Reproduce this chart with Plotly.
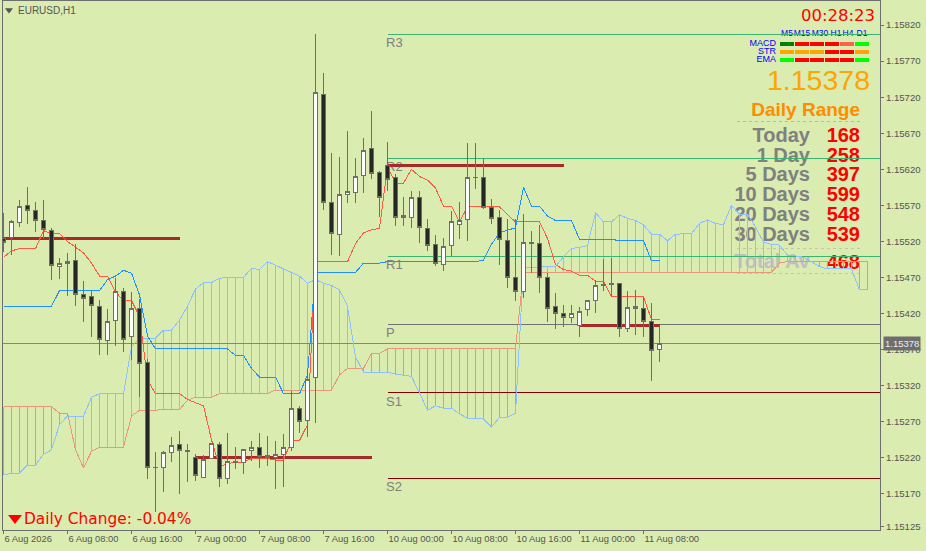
import plotly.graph_objects as go

# EURUSD H1 candles, one per hour bar
open_ = [1.15524,1.15525,1.15546,1.15570,1.15563,1.15549,1.15535,1.15485,1.15489,1.15494,1.15447,1.15443,1.15430,1.15382,1.15410,1.15451,1.15388,1.15427,1.15352,1.15206,1.15207,1.15228,1.15239,1.15230,1.15221,1.15193,1.15219,1.15239,1.15192,1.15214,1.15214,1.15230,1.15234,1.15223,1.15221,1.15224,1.15234,1.15289,1.15272,1.15332,1.15724,1.15574,1.15530,1.15585,1.15588,1.15612,1.15649,1.15616,1.15625,1.15609,1.15556,1.15553,1.15581,1.15538,1.15516,1.15488,1.15515,1.15544,1.15551,1.15608,1.15609,1.15567,1.15553,1.15522,1.15470,1.15450,1.15518,1.15517,1.15470,1.15430,1.15420,1.15415,1.15404,1.15425,1.15438,1.15461,1.15462,1.15462,1.15400,1.15430,1.15427,1.15409,1.15370]
high = [1.15559,1.15550,1.15577,1.15595,1.15574,1.15578,1.15538,1.15497,1.15504,1.15517,1.15465,1.15452,1.15439,1.15427,1.15469,1.15455,1.15450,1.15440,1.15357,1.15228,1.15229,1.15249,1.15257,1.15239,1.15226,1.15224,1.15241,1.15242,1.15255,1.15235,1.15232,1.15243,1.15254,1.15250,1.15243,1.15253,1.15313,1.15292,1.15342,1.15808,1.15754,1.15642,1.15637,1.15673,1.15636,1.15663,1.15701,1.15617,1.15658,1.15613,1.15582,1.15590,1.15590,1.15551,1.15529,1.15525,1.15562,1.15575,1.15656,1.15656,1.15635,1.15579,1.15564,1.15551,1.15551,1.15558,1.15535,1.15543,1.15476,1.15449,1.15432,1.15432,1.15429,1.15439,1.15466,1.15496,1.15497,1.15462,1.15451,1.15453,1.15443,1.15434,1.15403]
low = [1.15505,1.15501,1.15540,1.15544,1.15533,1.15524,1.15467,1.15468,1.15444,1.15430,1.15408,1.15388,1.15363,1.15363,1.15375,1.15367,1.15356,1.15305,1.15191,1.15145,1.15173,1.15214,1.15170,1.15187,1.15188,1.15193,1.15218,1.15180,1.15184,1.15205,1.15198,1.15215,1.15206,1.15209,1.15177,1.15180,1.15230,1.15255,1.15249,1.15268,1.15564,1.15501,1.15500,1.15573,1.15573,1.15587,1.15607,1.15554,1.15590,1.15542,1.15541,1.15538,1.15518,1.15507,1.15486,1.15479,1.15500,1.15523,1.15520,1.15593,1.15565,1.15544,1.15487,1.15456,1.15437,1.15442,1.15476,1.15449,1.15408,1.15399,1.15402,1.15407,1.15388,1.15417,1.15421,1.15452,1.15443,1.15387,1.15395,1.15391,1.15387,1.15327,1.15353]
close = [1.15519,1.15547,1.15568,1.15563,1.15549,1.15537,1.15486,1.15490,1.15492,1.15446,1.15441,1.15431,1.15384,1.15409,1.15450,1.15384,1.15427,1.15351,1.15206,1.15207,1.15228,1.15237,1.15230,1.15229,1.15195,1.15218,1.15240,1.15192,1.15215,1.15215,1.15232,1.15235,1.15222,1.15221,1.15224,1.15235,1.15288,1.15271,1.15329,1.15727,1.15574,1.15531,1.15585,1.15589,1.15610,1.15646,1.15614,1.15581,1.15606,1.15553,1.15553,1.15581,1.15540,1.15515,1.15490,1.15513,1.15547,1.15549,1.15608,1.15609,1.15567,1.15552,1.15523,1.15470,1.15450,1.15519,1.15517,1.15470,1.15427,1.15420,1.15415,1.15420,1.15423,1.15438,1.15459,1.15459,1.15460,1.15400,1.15429,1.15427,1.15409,1.15369,1.15378]

# Ichimoku
tenkan = [1.15498,1.15507,1.15510,1.15510,1.15510,1.15535,1.15531,1.15531,1.15520,1.15512,1.15504,1.15490,1.15472,1.15472,1.15450,1.15438,1.15438,1.15416,1.15328,1.15309,1.15309,1.15309,1.15309,1.15301,1.15296,1.15292,1.15245,1.15208,1.15212,1.15214,1.15214,1.15219,1.15219,1.15219,1.15217,1.15217,1.15244,1.15244,1.15266,1.15492,1.15492,1.15492,1.15492,1.15492,1.15517,1.15532,1.15536,1.15538,1.15624,1.15601,1.15601,1.15620,1.15610,1.15605,1.15594,1.15569,1.15569,1.15547,1.15568,1.15568,1.15568,1.15568,1.15568,1.15557,1.15547,1.15547,1.15547,1.15547,1.15524,1.15488,1.15481,1.15479,1.15473,1.15473,1.15465,1.15465,1.15443,1.15443,1.15443,1.15443,1.15443,1.15412,1.15412]
kijun = [1.15430,1.15430,1.15430,1.15430,1.15430,1.15430,1.15430,1.15452,1.15452,1.15452,1.15452,1.15452,1.15452,1.15467,1.15472,1.15480,1.15476,1.15446,1.15389,1.15371,1.15371,1.15371,1.15371,1.15371,1.15371,1.15371,1.15371,1.15371,1.15371,1.15362,1.15362,1.15344,1.15332,1.15332,1.15332,1.15309,1.15309,1.15309,1.15335,1.15477,1.15477,1.15477,1.15477,1.15477,1.15477,1.15490,1.15490,1.15490,1.15492,1.15492,1.15492,1.15492,1.15492,1.15492,1.15492,1.15492,1.15492,1.15492,1.15492,1.15492,1.15494,1.15516,1.15532,1.15536,1.15539,1.15595,1.15569,1.15569,1.15555,1.15549,1.15549,1.15549,1.15523,1.15523,1.15523,1.15523,1.15523,1.15521,1.15521,1.15521,1.15521,1.15493,1.15493]
senkou_a = [1.15291,1.15291,1.15291,1.15291,1.15291,1.15291,1.15291,1.15282,1.15282,1.15231,1.15206,1.15229,1.15235,1.15235,1.15235,1.15235,1.15278,1.15286,1.15286,1.15286,1.15286,1.15286,1.15287,1.15300,1.15304,1.15304,1.15304,1.15309,1.15309,1.15309,1.15309,1.15309,1.15309,1.15309,1.15314,1.15314,1.15314,1.15314,1.15314,1.15314,1.15314,1.15314,1.15335,1.15344,1.15344,1.15344,1.15365,1.15365,1.15371,1.15371,1.15371,1.15371,1.15371,1.15371,1.15371,1.15371,1.15371,1.15371,1.15371,1.15371,1.15371,1.15371,1.15371,1.15371,1.15371,1.15477,1.15477,1.15477,1.15477,1.15477,1.15477,1.15477,1.15477,1.15477,1.15477,1.15477,1.15477,1.15477,1.15477,1.15477,1.15477,1.15477,1.15477,1.15477,1.15477,1.15477,1.15477,1.15477,1.15477,1.15477,1.15477,1.15477,1.15477,1.15477,1.15477,1.15477,1.15477,1.15490,1.15492,1.15492,1.15492,1.15492,1.15492,1.15492,1.15492,1.15492,1.15492,1.15492,1.15492]
senkou_b = [1.15196,1.15199,1.15199,1.15210,1.15210,1.15225,1.15231,1.15266,1.15278,1.15278,1.15278,1.15304,1.15309,1.15309,1.15309,1.15309,1.15374,1.15386,1.15386,1.15386,1.15397,1.15397,1.15411,1.15430,1.15454,1.15463,1.15463,1.15469,1.15470,1.15470,1.15470,1.15483,1.15481,1.15492,1.15487,1.15483,1.15477,1.15472,1.15462,1.15467,1.15462,1.15459,1.15453,1.15430,1.15360,1.15339,1.15339,1.15339,1.15339,1.15336,1.15335,1.15333,1.15310,1.15286,1.15292,1.15289,1.15289,1.15281,1.15275,1.15275,1.15274,1.15263,1.15276,1.15276,1.15282,1.15484,1.15484,1.15484,1.15484,1.15485,1.15499,1.15510,1.15512,1.15514,1.15560,1.15547,1.15547,1.15557,1.15552,1.15549,1.15543,1.15530,1.15530,1.15521,1.15530,1.15530,1.15531,1.15545,1.15550,1.15545,1.15543,1.15570,1.15558,1.15558,1.15540,1.15519,1.15516,1.15515,1.15501,1.15500,1.15498,1.15492,1.15485,1.15482,1.15482,1.15482,1.15482,1.15453,1.15453]

# pivots and daily open levels
pivot_names = ["R3", "R2", "R1", "P", "S1", "S2"]
pivot_prices = [1.15807, 1.15635, 1.15499, 1.15405, 1.15310, 1.15192]
day_open_prices = [1.15524, 1.15221, 1.15625, 1.15404]
day_open_start = [0, 24, 48, 72]
day_open_end = [22, 46, 70, 82]
last_price = 1.15378

# axis labels
x_tick_pos = [0, 8, 16, 24, 32, 40, 48, 56, 64, 72, 80]
x_tick_text = ["6 Aug 2026", "6 Aug 08:00", "6 Aug 16:00", "7 Aug 00:00", "7 Aug 08:00", "7 Aug 16:00",
               "10 Aug 00:00", "10 Aug 08:00", "10 Aug 16:00", "11 Aug 00:00", "11 Aug 08:00"]
y_ticks = [1.15820,1.15770,1.15720,1.15670,1.15620,1.15570,1.15520,1.15470,1.15420,1.15370,1.15320,1.15270,1.15220,1.15170,1.15125]

# signal table and daily range panel
tf_names = ["M5", "M15", "M30", "H1", "H4", "D1"]
signal_names = ["MACD", "STR", "EMA"]
signal_colors = [["#008000", "#FF0000", "#FF0000", "#FF0000", "#FF6347", "#00FF00"],
                 ["#FFA500", "#FFA500", "#FFA500", "#FF0000", "#FF0000", "#FFA500"],
                 ["#00FF00", "#FF0000", "#FF0000", "#FF0000", "#FF0000", "#00FF00"]]
range_names = ["Today", "1 Day", "5 Days", "10 Days", "20 Days", "30 Days"]
range_values = ["168", "258", "397", "599", "548", "539"]
total_avg = "468"

BG = "#DAECAF"
FRAME = "#6E6E6E"
SANS = "Liberation Sans"
X_RANGE = [-0.0625, 109.5625]
Y_RANGE = [1.15120, 1.158533]
xs = list(range(len(senkou_a)))

fig = go.Figure()


def panel_text(text, x, y, size, color, pos="middle left", family=SANS, weight=400):
    # panel axes are in screen pixels, they sit under the market layers
    fig.add_trace(go.Scatter(x=[x], y=[y], mode="text", text=[text], textposition=pos,
                             textfont=dict(family=family, size=size, color=color, weight=weight),
                             hoverinfo="skip", showlegend=False))


def panel_line(x0, x1, y, color, width, dash="solid"):
    fig.add_trace(go.Scatter(x=[x0, x1], y=[y, y], mode="lines", line=dict(color=color, width=width, dash=dash),
                             hoverinfo="skip", showlegend=False))


def market_line(x, y, color, width):
    fig.add_trace(go.Scatter(x=x, y=y, mode="lines", line=dict(color=color, width=width), xaxis="x2", yaxis="y2",
                             connectgaps=False, hoverinfo="skip", showlegend=False))


# header
fig.add_trace(go.Scatter(x=[9], y=[10], mode="markers", marker=dict(symbol="triangle-down", size=7, color="#555555"),
                         hoverinfo="skip", showlegend=False))
panel_text("EURUSD,H1", 18, 11, 10, "#555555", pos="middle right")

# clock and signal table
panel_text("00:28:23", 875, 17, 16.5, "#FF0000", family="DejaVu Sans")
col_x = [787, 802, 817, 832, 847, 862]
label_x = [787, 802, 820, 836, 848, 862]
row_y = [43.7, 51.7, 59.7]
label_y = [44, 52, 60]
for name, lx in zip(tf_names, label_x):
    panel_text(name, lx, 34, 8.5, "#0000FF", pos="middle center")
for r, name in enumerate(signal_names):
    panel_text(name, 776, label_y[r], 9, "#0000FF")
    for c, color in enumerate(signal_colors[r]):
        panel_line(col_x[c] - 6.7, col_x[c] + 6.7, row_y[r], color, 4)

panel_text(f"{last_price:.5f}", 870, 83, 28.5, "#FFA500")
panel_text("Daily Range", 860, 111, 19, "#FF8C00", weight=700)
panel_line(737, 860, 121.5, "#B9B9A0", 1, "dot")

row_center = [136.5, 156.5, 176, 195.5, 216, 236]
for name, val, y in zip(range_names, range_values, row_center):
    panel_text(name, 810, y, 20, "#808080", weight=700)
    panel_text(val, 860, y, 20, "#FF0000", weight=700)
panel_line(737, 860, 248.5, "#C4C4B4", 1, "dot")
panel_text("Total Av", 810, 262.5, 20, "#C0C0C0", weight=700)
panel_text(total_avg, 860, 264, 20, "#FF0000", weight=700)
panel_line(737, 860, 273.5, "#C4C4B4", 1, "dot")

# daily change
fig.add_trace(go.Scatter(x=[15], y=[518], mode="markers", marker=dict(symbol="triangle-down", size=12, color="#FF0000"),
                         hoverinfo="skip", showlegend=False))
panel_text("Daily Change: -0.04%", 24, 520.5, 15.4, "#FF0000", pos="middle right", family="DejaVu Sans")

# pivot names
pivot_label_y = [44, 168, 266, 334, 403, 488]
for name, y in zip(pivot_names, pivot_label_y):
    panel_text(name, 386, y, 13, "#808080", pos="middle right")

# cloud hatching, one stroke per bar
hatch_blue_x, hatch_blue_y, hatch_red_x, hatch_red_y = [], [], [], []
for i, (a, b) in enumerate(zip(senkou_a, senkou_b)):
    if b > a:
        hatch_blue_x += [i, i, None]
        hatch_blue_y += [a, b, None]
    else:
        hatch_red_x += [i, i, None]
        hatch_red_y += [a, b, None]
market_line(hatch_blue_x, hatch_blue_y, "#8CC0FF", 1)
market_line(hatch_red_x, hatch_red_y, "#E9967A", 1)

# levels
for name, price in zip(pivot_names, pivot_prices):
    color = "#707070" if name == "P" else ("#3CB371" if name.startswith("R") else "#800000")
    market_line([48, X_RANGE[1]], [price, price], color, 1)
market_line(X_RANGE, [last_price, last_price], "#778899", 1)
for p, s, e in zip(day_open_prices, day_open_start, day_open_end):
    market_line([s, e], [p, p], "#A52A2A", 3)

market_line(xs, senkou_a, "#E9967A", 1)
market_line(xs, senkou_b, "#8CC0FF", 1)
market_line(xs[:len(kijun)], kijun, "#1E90FF", 1)
market_line(xs[:len(tenkan)], tenkan, "#FF5A46", 1)

fig.add_trace(go.Candlestick(x=xs[:len(close)], open=open_, high=high, low=low, close=close,
                             xaxis="x3", yaxis="y3", whiskerwidth=0,
                             increasing=dict(line=dict(color="#70705F", width=1), fillcolor="#FFFFFF"),
                             decreasing=dict(line=dict(color="#70705F", width=1), fillcolor="#262626"),
                             hoverinfo="skip", showlegend=False))

# price tag on the scale
fig.add_annotation(x=1, y=last_price, xref="paper", yref="y2", text=f"{last_price:.5f}", showarrow=False,
                   xanchor="left", xshift=3, bgcolor="#6E6E6E", borderpad=1,
                   font=dict(family=SANS, size=9.5, color="#EDEDED"))

fig.update_layout(
    width=926, height=551, margin=dict(l=3, r=46, t=1, b=21), autosize=False,
    paper_bgcolor=BG, plot_bgcolor=BG, showlegend=False, boxgap=0.5, boxgroupgap=0,
    font=dict(family=SANS, size=10, color="#555555"),
    xaxis=dict(range=[3, 880], visible=False, fixedrange=True),
    yaxis=dict(range=[530, 1], visible=False, fixedrange=True),
    xaxis2=dict(range=X_RANGE, overlaying="x", anchor="y2", side="bottom", showgrid=False, zeroline=False,
                tickvals=x_tick_pos, ticktext=x_tick_text, ticks="outside", ticklen=3, tickcolor=FRAME,
                ticklabelposition="outside right", tickangle=0, automargin=False,
                showline=True, linecolor=FRAME, linewidth=1, mirror=True,
                tickfont=dict(family=SANS, size=9.4, color="#555555")),
    yaxis2=dict(range=Y_RANGE, overlaying="y", anchor="x2", side="right", showgrid=False, zeroline=False,
                tickvals=y_ticks, tickformat=".5f", ticks="outside", ticklen=3, tickcolor=FRAME, automargin=False,
                showline=True, linecolor=FRAME, linewidth=1, mirror=True,
                tickfont=dict(family=SANS, size=9.6, color="#555555")),
    xaxis3=dict(range=X_RANGE, overlaying="x", anchor="y3", visible=False, rangeslider=dict(visible=False)),
    yaxis3=dict(range=Y_RANGE, overlaying="y", anchor="x3", visible=False),
)

# page margin off, and hard pixel edges on the chart lines like the terminal draws them
crisp = ("document.body.style.margin='0';"
         "document.querySelectorAll('.scatterlayer path.js-line, .boxlayer path')"
         ".forEach(function(p){p.style.shapeRendering='crispEdges';});")
fig.write_html("out.html", config=dict(displayModeBar=False), post_script=crisp)
